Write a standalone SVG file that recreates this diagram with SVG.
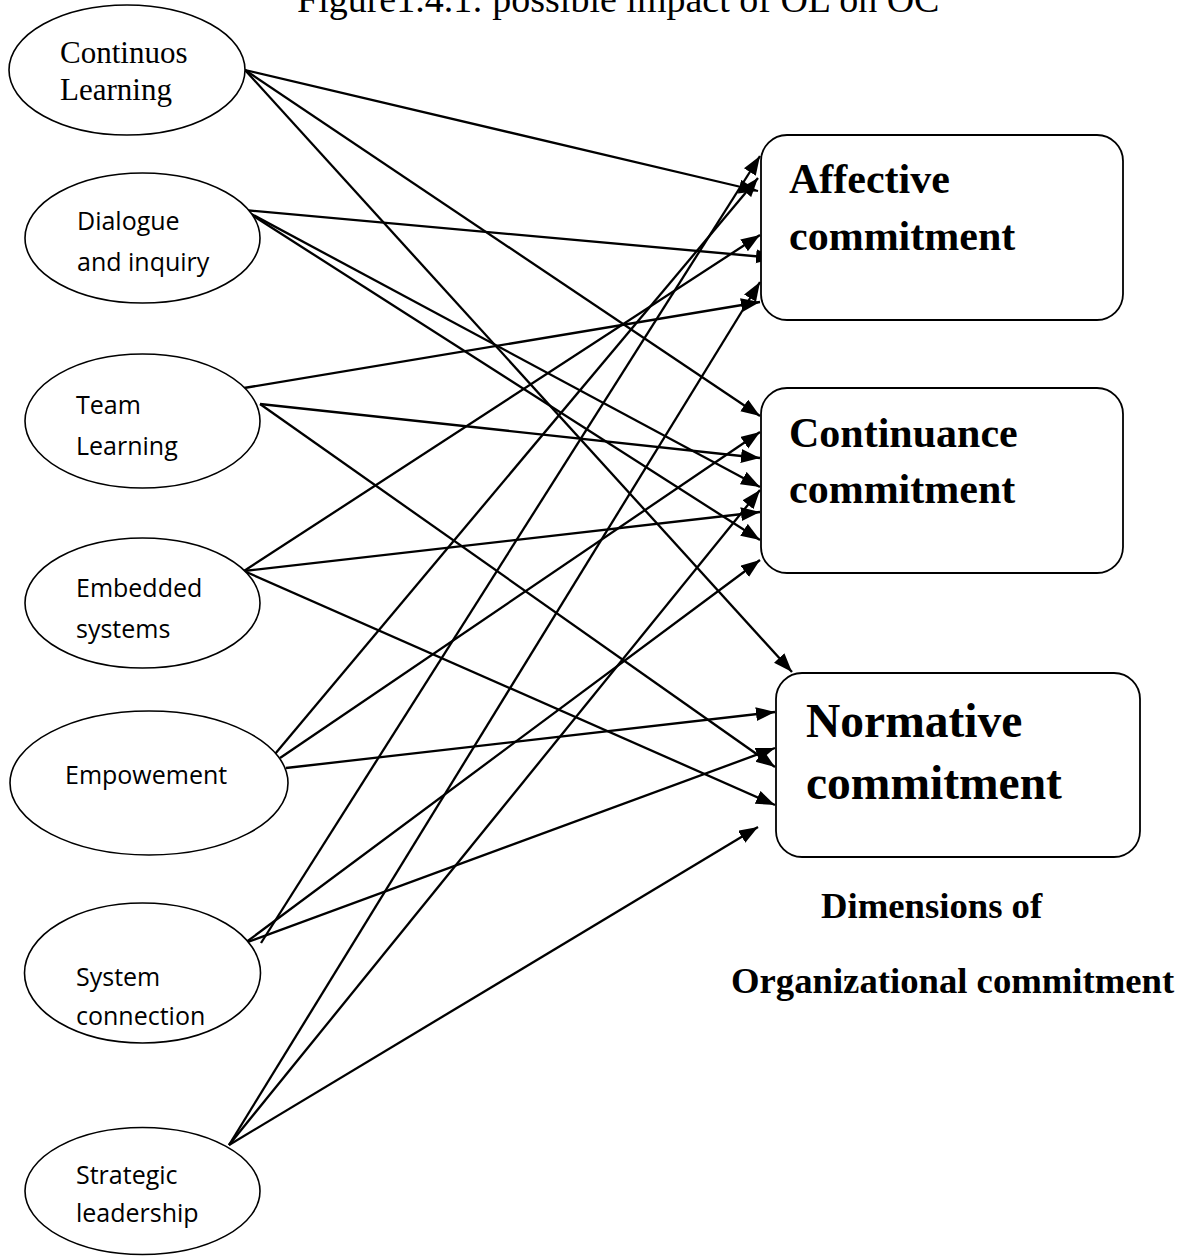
<svg xmlns="http://www.w3.org/2000/svg" width="1189" height="1256" viewBox="0 0 1189 1256">
<style>
.bg{fill:#ffffff}
.node ellipse{fill:#ffffff;stroke:#000000;stroke-width:1.6}
.node rect{fill:#ffffff;stroke:#000000;stroke-width:1.8}
.serif{font-family:"Liberation Serif","Times New Roman",serif;fill:#000000}
.sans{font-family:"Open Sans","Noto Sans",sans-serif;font-size:25px;fill:#000000}
.bold{font-family:"Liberation Serif","Times New Roman",serif;font-weight:bold;fill:#000000}
.conn line{stroke:#000000;stroke-width:2.3;marker-end:url(#arrow)}
</style>
<defs>
<marker id="arrow" markerUnits="userSpaceOnUse" markerWidth="20" markerHeight="15" refX="19" refY="7" orient="auto">
<path d="M0,0 L19,7 L0,14 z" fill="#000000"/>
</marker>
</defs>
<rect class="bg" x="0" y="0" width="1189" height="1256"/>
<text class="serif" x="297" y="12" font-size="38">Figure1.4.1: possible impact of OL on OC</text>

<g id="connectors" class="conn">
<line x1="245" y1="70" x2="758" y2="191"/>
<line x1="245" y1="70" x2="760" y2="416"/>
<line x1="245" y1="70" x2="792" y2="672"/>
<line x1="244" y1="210" x2="775" y2="258"/>
<line x1="244" y1="210" x2="760" y2="487"/>
<line x1="244" y1="210" x2="760" y2="540"/>
<line x1="244" y1="388" x2="760" y2="302"/>
<line x1="260" y1="404" x2="760" y2="458"/>
<line x1="260" y1="404" x2="775" y2="767"/>
<line x1="244" y1="571" x2="760" y2="235"/>
<line x1="244" y1="571" x2="760" y2="512"/>
<line x1="244" y1="571" x2="775" y2="805"/>
<line x1="275" y1="754" x2="758" y2="178"/>
<line x1="280" y1="758" x2="760" y2="432"/>
<line x1="286" y1="768" x2="775" y2="712"/>
<line x1="261" y1="943" x2="760" y2="156"/>
<line x1="245" y1="943" x2="760" y2="560"/>
<line x1="245" y1="943" x2="775" y2="748"/>
<line x1="229" y1="1145" x2="760" y2="282"/>
<line x1="229" y1="1145" x2="760" y2="490"/>
<line x1="229" y1="1145" x2="758" y2="827"/>
</g>

<g id="node-continuos" class="node">
<ellipse cx="127" cy="70" rx="118" ry="65"/>
<text class="serif" x="60" y="63" font-size="31">Continuos</text>
<text class="serif" x="60" y="100" font-size="31">Learning</text>
</g>
<g id="node-dialogue" class="node">
<ellipse cx="142.5" cy="238" rx="117.5" ry="65"/>
<text class="sans" x="77" y="230">Dialogue</text>
<text class="sans" x="77" y="271">and inquiry</text>
</g>
<g id="node-team" class="node">
<ellipse cx="142.5" cy="421" rx="117.5" ry="67"/>
<text class="sans" x="76" y="414">Team</text>
<text class="sans" x="76" y="455">Learning</text>
</g>
<g id="node-embedded" class="node">
<ellipse cx="142.5" cy="603" rx="117.5" ry="65"/>
<text class="sans" x="76" y="597">Embedded</text>
<text class="sans" x="76" y="638">systems</text>
</g>
<g id="node-empowement" class="node">
<ellipse cx="149" cy="783" rx="139" ry="72"/>
<text class="sans" x="65" y="784">Empowement</text>
</g>
<g id="node-system" class="node">
<ellipse cx="142.5" cy="973" rx="118" ry="70"/>
<text class="sans" x="76" y="986">System</text>
<text class="sans" x="76" y="1025">connection</text>
</g>
<g id="node-strategic" class="node">
<ellipse cx="142.5" cy="1191" rx="117.5" ry="63.5"/>
<text class="sans" x="76" y="1184">Strategic</text>
<text class="sans" x="76" y="1222">leadership</text>
</g>

<g id="node-affective" class="node">
<rect x="761" y="135" width="362" height="185" rx="26" ry="26"/>
<text class="bold" x="789" y="193" font-size="42">Affective</text>
<text class="bold" x="789" y="250" font-size="42">commitment</text>
</g>
<g id="node-continuance" class="node">
<rect x="761" y="388" width="362" height="185" rx="26" ry="26"/>
<text class="bold" x="789" y="447" font-size="42">Continuance</text>
<text class="bold" x="789" y="503" font-size="42">commitment</text>
</g>
<g id="node-normative" class="node">
<rect x="776" y="673" width="364" height="184" rx="26" ry="26"/>
<text class="bold" x="806" y="737" font-size="47.5">Normative</text>
<text class="bold" x="806" y="799" font-size="47.5">commitment</text>
</g>

<g id="caption">
<text class="bold" x="821" y="918" font-size="36.7">Dimensions of</text>
<text class="bold" x="731" y="993" font-size="36.7">Organizational commitment</text>
</g>
</svg>
